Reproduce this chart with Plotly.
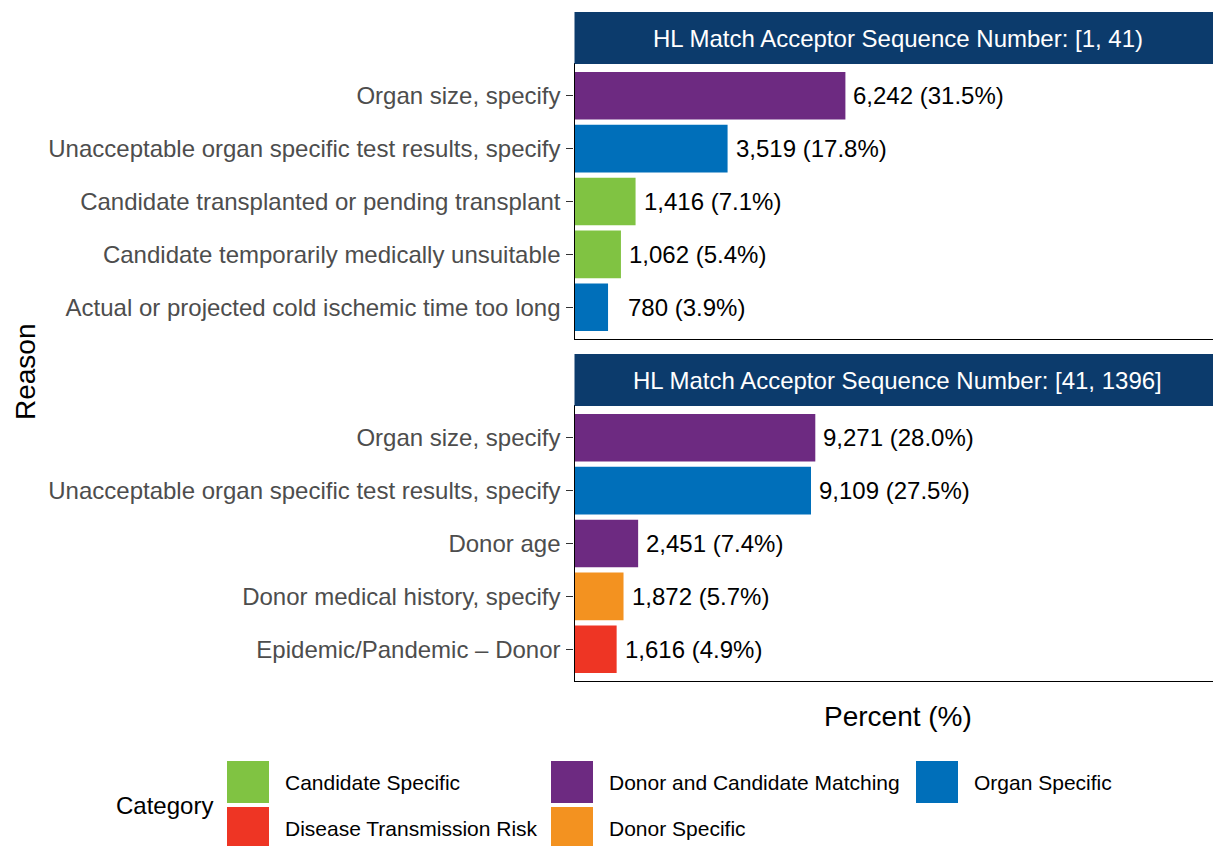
import plotly.graph_objects as go

# ---------------- data ----------------
panel_titles = [
    "HL Match Acceptor Sequence Number: [1, 41)",
    "HL Match Acceptor Sequence Number: [41, 1396]",
]

p1_reasons = [
    "Organ size, specify",
    "Unacceptable organ specific test results, specify",
    "Candidate transplanted or pending transplant",
    "Candidate temporarily medically unsuitable",
    "Actual or projected cold ischemic time too long",
]
p1_counts = [6242, 3519, 1416, 1062, 780]
p1_pcts = [31.5, 17.8, 7.1, 5.4, 3.9]
p1_cats = [
    "Donor and Candidate Matching",
    "Organ Specific",
    "Candidate Specific",
    "Candidate Specific",
    "Organ Specific",
]

p2_reasons = [
    "Organ size, specify",
    "Unacceptable organ specific test results, specify",
    "Donor age",
    "Donor medical history, specify",
    "Epidemic/Pandemic \u2013 Donor",
]
p2_counts = [9271, 9109, 2451, 1872, 1616]
p2_pcts = [28.0, 27.5, 7.4, 5.7, 4.9]
p2_cats = [
    "Donor and Candidate Matching",
    "Organ Specific",
    "Donor and Candidate Matching",
    "Donor Specific",
    "Disease Transmission Risk",
]

legend_categories = [
    "Candidate Specific",
    "Disease Transmission Risk",
    "Donor and Candidate Matching",
    "Donor Specific",
    "Organ Specific",
]

# ---------------- style ----------------
FONT = "Liberation Sans, Arial, Helvetica, sans-serif"
cat_colors = {
    "Candidate Specific": "#80C342",
    "Disease Transmission Risk": "#EE3524",
    "Donor and Candidate Matching": "#6D2A81",
    "Donor Specific": "#F39220",
    "Organ Specific": "#006FBA",
}
STRIP = "#0C3B6C"
W, H = 1213, 846

x_dom = [574.5 / W, 1.0]
y_doms = [[1 - 339 / H, 1 - 64 / H], [1 - 681 / H, 1 - 406 / H]]
strip_frac = 52 / 275
x_max = (W - 574.5) / 8.6

fig = go.Figure()

panels = [
    (p1_reasons, p1_counts, p1_pcts, p1_cats),
    (p2_reasons, p2_counts, p2_pcts, p2_cats),
]

annotations = []
shapes = []
for i, (reasons, counts, pcts, cats) in enumerate(panels):
    xa = "x" if i == 0 else "x2"
    ya = "y" if i == 0 else "y2"
    fig.add_trace(go.Bar(
        x=pcts, y=reasons, orientation="h",
        marker=dict(color=[cat_colors[c] for c in cats], line=dict(width=0)),
        width=0.9, showlegend=False, xaxis=xa, yaxis=ya,
        hovertemplate="%{y}: %{x}%<extra></extra>",
    ))
    floor = max(pcts) / 6
    for r, n, p in zip(reasons, counts, pcts):
        annotations.append(dict(
            x=max(p, floor), y=r, xref=xa, yref=ya,
            text=f"{n:,} ({p:.1f}%)", showarrow=False,
            xanchor="left", yanchor="middle", xshift=6,
            font=dict(family=FONT, size=24, color="#000000"),
        ))
    # strip header
    shapes.append(dict(
        type="rect", xref=f"{xa} domain", yref=f"{ya} domain",
        x0=0, x1=1, y0=1, y1=1 + strip_frac,
        fillcolor=STRIP, line=dict(width=0), layer="above",
    ))
    annotations.append(dict(
        x=0.5, y=1 + strip_frac / 2, xref=f"{xa} domain", yref=f"{ya} domain",
        text=panel_titles[i], showarrow=False, xanchor="center", yanchor="middle",
        xshift=4,
        font=dict(family=FONT, size=24, color="#FFFFFF"),
    ))

axis_common_x = dict(
    range=[0, x_max], domain=x_dom, showticklabels=False, ticks="",
    showgrid=False, zeroline=False, showline=True, mirror=True,
    linecolor="#000000", linewidth=1.4, automargin=False, fixedrange=True,
)
axis_common_y = dict(
    range=[4.6, -0.6], showgrid=False, zeroline=False, showline=True,
    mirror=False, linecolor="#000000", linewidth=1.4,
    ticks="outside", ticklen=7, tickwidth=1.3, tickcolor="#333333",
    tickfont=dict(family=FONT, size=24, color="#4D4D4D"),
    ticklabelstandoff=1, automargin=False, fixedrange=True,
)

fig.update_layout(
    xaxis=dict(anchor="y", **axis_common_x),
    xaxis2=dict(anchor="y2", **axis_common_x),
    yaxis=dict(anchor="x", domain=y_doms[0], categoryorder="array",
               categoryarray=p1_reasons, **axis_common_y),
    yaxis2=dict(anchor="x2", domain=y_doms[1], categoryorder="array",
                categoryarray=p2_reasons, **axis_common_y),
)

# ---------------- legend (drawn in its own hidden axes) ----------------
leg_cols_x = [248, 572, 937]
leg_rows_y = [782, 828]
lx, ly = [], []
for k, c in enumerate(legend_categories):
    lx.append(leg_cols_x[k // 2])
    ly.append(leg_rows_y[k % 2])
fig.add_trace(go.Scatter(
    x=lx, y=ly, mode="markers", xaxis="x3", yaxis="y3",
    marker=dict(symbol="square", size=42,
                color=[cat_colors[c] for c in legend_categories],
                line=dict(width=0)),
    showlegend=False, hoverinfo="skip", cliponaxis=False,
))
for c, x, y in zip(legend_categories, lx, ly):
    annotations.append(dict(
        x=x + 21 + 14, y=y, xref="x3", yref="y3", text=c, showarrow=False,
        xanchor="left", yanchor="middle",
        font=dict(family=FONT, size=21, color="#000000"),
    ))
annotations.append(dict(
    x=114, y=805, xref="x3", yref="y3", text="Category", showarrow=False,
    xanchor="left", yanchor="middle",
    font=dict(family=FONT, size=24, color="#000000"),
))
fig.update_layout(
    xaxis3=dict(domain=[0, 1], range=[0, W], visible=False, fixedrange=True),
    yaxis3=dict(domain=[0, 100 / H], range=[H, H - 100], visible=False,
                fixedrange=True, anchor="x3"),
)

# ---------------- axis titles ----------------
annotations.append(dict(
    x=898 / W, y=1 - 716 / H, xref="paper", yref="paper",
    text="Percent (%)", showarrow=False, xanchor="center", yanchor="middle",
    font=dict(family=FONT, size=28, color="#000000"),
))
annotations.append(dict(
    x=25 / W, y=1 - 372 / H, xref="paper", yref="paper",
    text="Reason", showarrow=False, textangle=-90,
    xanchor="center", yanchor="middle",
    font=dict(family=FONT, size=28, color="#000000"),
))

fig.update_layout(
    width=W, height=H,
    margin=dict(l=0, r=0, t=0, b=0),
    paper_bgcolor="#FFFFFF", plot_bgcolor="#FFFFFF",
    annotations=annotations, shapes=shapes,
    font=dict(family=FONT),
    showlegend=False,
    bargap=0.1,
)

fig.write_html(
    "out.html",
    config={"displayModeBar": False},
    post_script="document.body.style.margin='0px';document.body.style.overflow='hidden';",
)
